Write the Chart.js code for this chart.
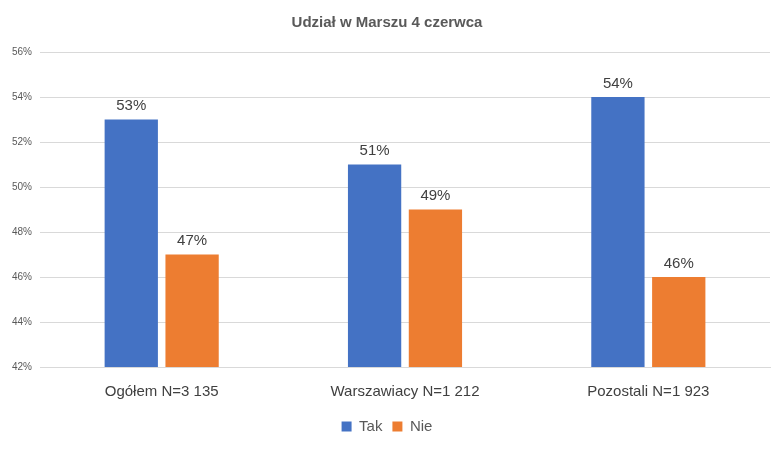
<!DOCTYPE html>
<html><head><meta charset="utf-8">
<script src="https://cdn.jsdelivr.net/npm/chart.js@4"></script>
<style>html,body{margin:0;padding:0;background:#fff}#w{width:782px;height:450px}</style>
</head><body><div id="w"><canvas id="c" width="782" height="450"></canvas></div>
<script>
const categories = ["Ogółem N=3 135", "Warszawiacy N=1 212", "Pozostali N=1 923"];
const tak = [53, 51, 54];
const nie = [47, 49, 46];
const labelsPlugin = {
  id: 'lbl',
  afterDatasetsDraw(chart) {
    const ctx = chart.ctx;
    ctx.save();
    ctx.font = '15px "Liberation Sans", Arial, sans-serif';
    ctx.fillStyle = '#404040';
    ctx.textAlign = 'center';
    ctx.textBaseline = 'bottom';
    chart.data.datasets.forEach((ds, i) => {
      chart.getDatasetMeta(i).data.forEach((bar, j) => {
        ctx.fillText(ds.data[j] + '%', bar.x, bar.y - 6);
      });
    });
    ctx.restore();
  }
};
new Chart(document.getElementById('c'), {
  type: 'bar',
  data: {
    labels: categories,
    datasets: [
      { label: 'Tak', data: tak, backgroundColor: '#4472C4' },
      { label: 'Nie', data: nie, backgroundColor: '#ED7D31' }
    ]
  },
  options: {
    responsive: false,
    animation: false,
    layout: { padding: { left: 4, right: 12, top: 4, bottom: 6 } },
    datasets: { bar: { categoryPercentage: 0.5, barPercentage: 0.876 } },
    plugins: {
      title: { display: true, text: 'Udział w Marszu 4 czerwca', color: '#595959',
        font: { size: 15, weight: 'bold', family: '"Liberation Sans", Arial, sans-serif' },
        padding: { top: 10, bottom: 20 } },
      legend: { position: 'bottom', labels: { boxWidth: 10, boxHeight: 10, color: '#595959',
        font: { size: 15, family: '"Liberation Sans", Arial, sans-serif' }, padding: 10 } },
      tooltip: { enabled: false }
    },
    scales: {
      y: { min: 42, max: 56, ticks: { stepSize: 2, callback: v => v + '%', color: '#595959',
          font: { size: 10, family: '"Liberation Sans", Arial, sans-serif' }, padding: 8 },
        grid: { color: '#d9d9d9', drawTicks: false }, border: { display: false } },
      x: { ticks: { color: '#404040', font: { size: 15, family: '"Liberation Sans", Arial, sans-serif' }, padding: 8 },
        grid: { display: false }, border: { color: '#d9d9d9' } }
    }
  },
  plugins: [labelsPlugin]
});
</script></body></html>
